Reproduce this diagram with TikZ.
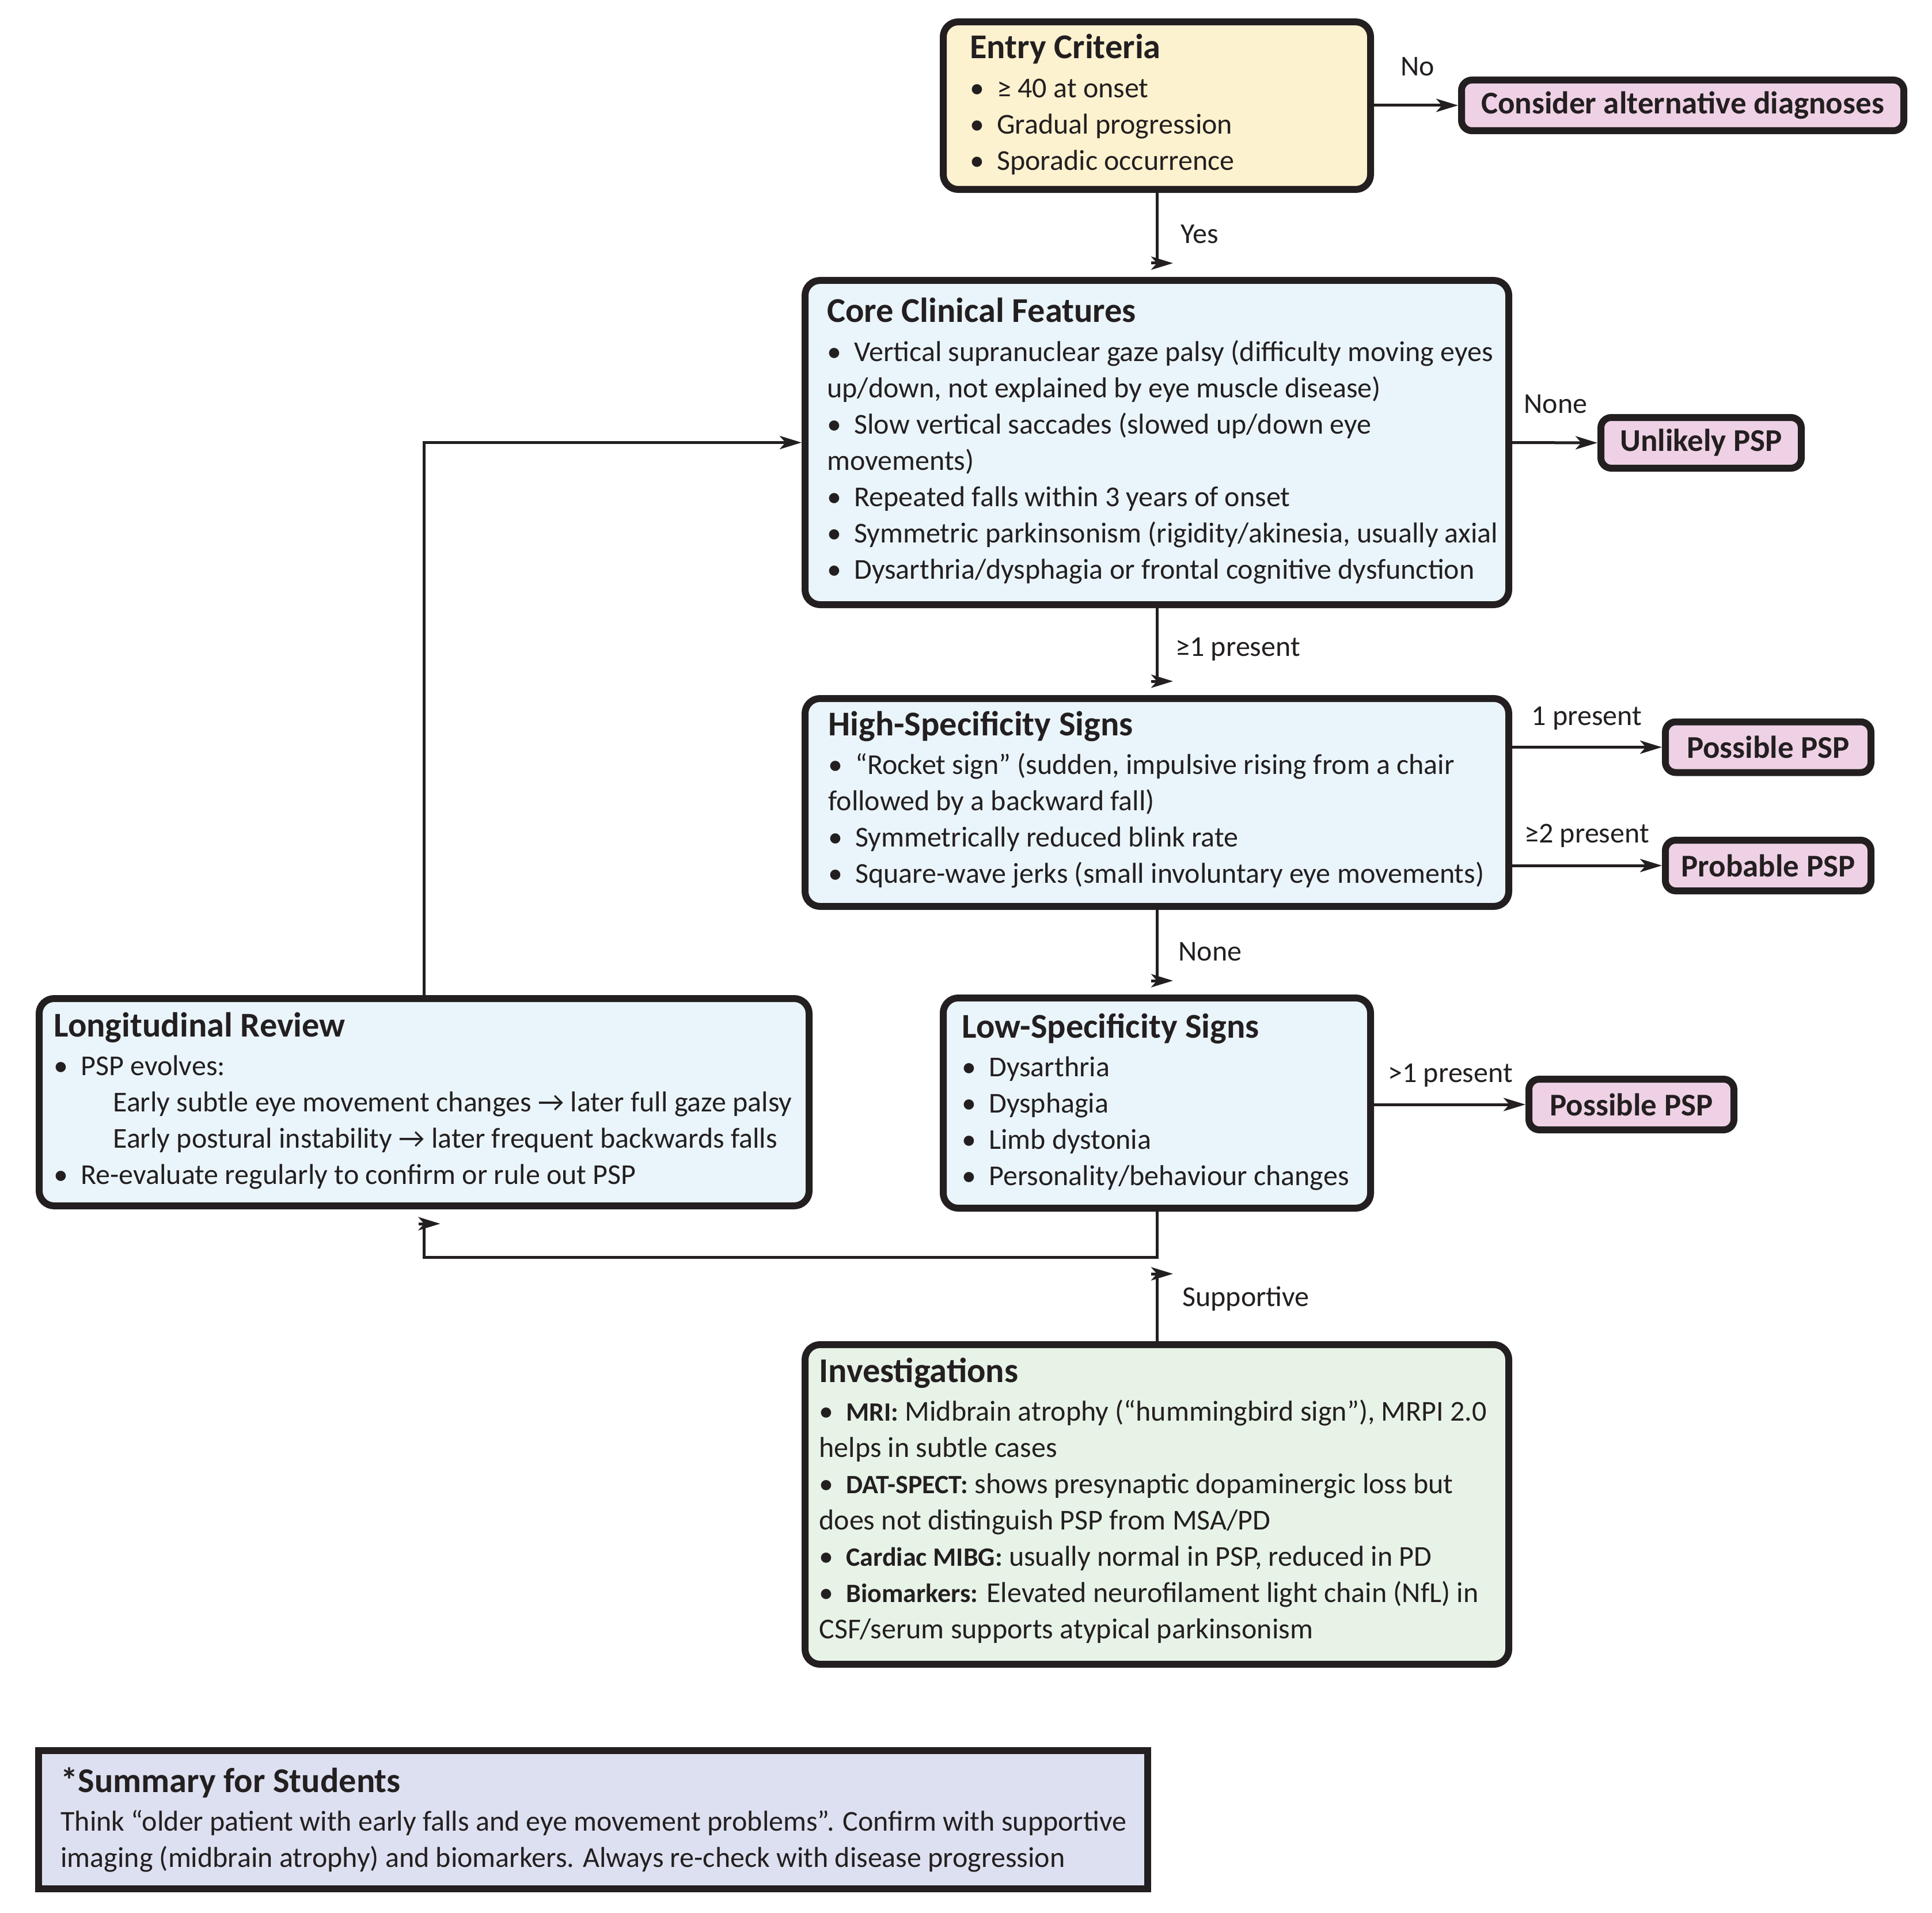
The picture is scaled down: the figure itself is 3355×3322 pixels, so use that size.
\documentclass[tikz,border=0pt]{standalone}
\usepackage{fontspec}
\setmainfont{Carlito}
\usetikzlibrary{arrows.meta,calc}
\definecolor{ink}{HTML}{231F20}
\definecolor{yellowfill}{HTML}{FDF2CF}
\definecolor{bluefill}{HTML}{EAF5FB}
\definecolor{pinkfill}{HTML}{EFD1E5}
\definecolor{greenfill}{HTML}{E8F3E8}
\definecolor{lavfill}{HTML}{DDE0F0}
\newcommand\tsz{\fontsize{30.2pt}{31.5pt}\selectfont\bfseries}
\newcommand\bsz{\fontsize{25pt}{31.5pt}\selectfont}
\newcommand\bl[1]{\hbox{\makebox[23.5pt][l]{•}#1}}
\newcommand\txl[1]{\hbox{#1}}
\newcommand\ttl[1]{\hbox{\tsz #1}\vskip 2.25pt}
\newcommand\lbl[1]{{\fontsize{23pt}{31.5pt}\selectfont\bfseries #1}}
\newcommand\txtbox[1]{\vtop{\bsz\baselineskip=31.5pt\lineskiplimit=-100pt\lineskip=0pt #1}}
\tikzset{
  box/.style 2 args={draw=ink, line width=6pt, rounded corners=13pt, inner sep=0pt,
    minimum width=#1*0.5pt-6pt, minimum height=#2*0.5pt-6pt},
  term/.style 2 args={draw=ink, line width=6pt, rounded corners=9pt, inner sep=0pt,
    fill=pinkfill, text=ink, font=\fontsize{27.5pt}{30pt}\selectfont\bfseries,
    minimum width=#1*0.5pt-6pt, minimum height=#2*0.5pt-6pt},
  sqbox/.style 2 args={draw=ink, line width=6pt, inner sep=0pt,
    minimum width=#1*0.5pt-6pt, minimum height=#2*0.5pt-6pt},
  body/.style={anchor=base west, inner sep=0pt, text=ink},
  lab/.style={anchor=base west, inner sep=0pt, text=ink, font=\bsz},
  conn/.style={draw=ink, line width=2.5pt},
  arr/.style={conn, -{Stealth[length=19pt, width=11.5pt, inset=5pt]}},
}
\begin{document}
\begin{tikzpicture}[x=0.5pt,y=-0.5pt]
\fill[white] (0,0) rectangle (3355,3322);
\useasboundingbox (0,0) rectangle (3355,3322);

% boxes
\node[box={754}{303}, fill=yellowfill] (entry) at (2009,183.5) {};
\node[term={780}{100}] (consider) at (2922,183) {Consider alternative diagnoses};
\node[box={1234}{575}, fill=bluefill] (core) at (2009,768.5) {};
\node[term={360}{100}] (unlikely) at (2954,769) {Unlikely PSP};
\node[box={1234}{373}, fill=bluefill] (high) at (2009,1393.5) {};
\node[term={369}{100}] (possible) at (3070.5,1297.5) {Possible PSP};
\node[term={369}{100}] (probable) at (3070.5,1503) {Probable PSP};
\node[box={754}{377}, fill=bluefill] (low) at (2009,1915.5) {};
\node[term={368}{100}] (possible2) at (2833,1918) {Possible PSP};
\node[box={1349}{372}, fill=bluefill] (longi) at (736.5,1914) {};
\node[box={1234}{567}, fill=greenfill] (inv) at (2009,2612.5) {};
\node[sqbox={1938}{252}, fill=lavfill] (summary) at (1030,3160) {};

% box texts
\node[body] (entrytxt) at (1684,102) {\txtbox{%
  \ttl{Entry Criteria}
  \bl{≥ 40 at onset}
  \bl{Gradual progression}
  \bl{Sporadic occurrence}}};
\node[body] (coretxt) at (1436,560) {\txtbox{%
  \ttl{Core Clinical Features}
  \bl{Vertical supranuclear gaze palsy (difficulty moving eyes}
  \txl{up/down, not explained by eye muscle disease)}
  \bl{Slow vertical saccades (slowed up/down eye}
  \txl{movements)}
  \bl{Repeated falls within 3 years of onset}
  \bl{Symmetric parkinsonism (rigidity/akinesia, usually axial}
  \bl{Dysarthria/dysphagia or frontal cognitive dysfunction}}};
\node[body] (hightxt) at (1438,1277) {\txtbox{%
  \ttl{High-Specificity Signs}
  \bl{“Rocket sign” (sudden, impulsive rising from a chair}
  \txl{followed by a backward fall)}
  \bl{Symmetrically reduced blink rate}
  \bl{Square-wave jerks (small involuntary eye movements)}}};
\node[body] (lowtxt) at (1670,1802) {\txtbox{%
  \ttl{Low-Specificity Signs}
  \bl{Dysarthria}
  \bl{Dysphagia}
  \bl{Limb dystonia}
  \bl{Personality/behaviour changes}}};
\node[body] (longitxt) at (93,1800) {\txtbox{%
  \ttl{Longitudinal Review}
  \bl{PSP evolves:}
  \txl{\hspace{51.5pt}Early subtle eye movement changes → later full gaze palsy}
  \txl{\hspace{51.5pt}Early postural instability → later frequent backwards falls}
  \bl{Re-evaluate regularly to confirm or rule out PSP}}};
\node[body] (invtxt) at (1422,2400) {\txtbox{%
  \ttl{Investigations}
  \bl{\lbl{MRI:} Midbrain atrophy (“hummingbird sign”), MRPI 2.0}
  \txl{helps in subtle cases}
  \bl{\lbl{DAT-SPECT:} shows presynaptic dopaminergic loss but}
  \txl{does not distinguish PSP from MSA/PD}
  \bl{\lbl{Cardiac MIBG:} usually normal in PSP, reduced in PD}
  \bl{\lbl{Biomarkers:} Elevated neurofilament light chain (NfL) in}
  \txl{CSF/serum supports atypical parkinsonism}}};
\node[body] (sumtxt) at (105,3112) {\txtbox{%
  \ttl{*Summary for Students}
  \txl{Think “older patient with early falls and eye movement problems”. Confirm with supportive}
  \txl{imaging (midbrain atrophy) and biomarkers. Always re-check with disease progression}}};

% connectors: horizontal
\draw[arr] (entry.east |- consider.west) -- (consider.west);
\draw[arr] (core.east) -- (unlikely.west);
\draw[arr] (possible.west -| high.east) -- (possible.west);
\draw[arr] (probable.west -| high.east) -- (probable.west);
\draw[arr] (possible2.west -| low.east) -- (possible2.west);
\draw[arr] (longi.north) |- (core.west);

% connectors: vertical (heads drawn as in the reference)
\draw[conn] (entry.south) -- ($(core.north)+(0,-24)$) coordinate (e1);
\draw[arr] ($(e1)+(-10,0)$) -- ++(38,0);
\draw[conn] (core.south) -- ($(high.north)+(0,-24)$) coordinate (e2);
\draw[arr] ($(e2)+(-10,0)$) -- ++(38,0);
\draw[conn] (high.south) -- ($(low.north)+(0,-24)$) coordinate (e3);
\draw[arr] ($(e3)+(-10,0)$) -- ++(38,0);
\coordinate (rt) at (0,2183);
\draw[conn] (low.south) -- (low.south |- rt) -- (longi.south |- rt) -- ($(longi.south)+(0,25)$) coordinate (e4);
\draw[arr] ($(e4)+(-10,0)$) -- ++(38,0);
\draw[conn] (inv.north) -- ($(low.south)+(0,108)$) coordinate (e5);
\draw[arr] ($(e5)+(-10,0)$) -- ++(38,0);

% connector labels
\node[lab] (lno) at (2432,132) {No};
\node[lab] (lyes) at (2050,423) {Yes};
\node[lab] (lnone1) at (2646,718) {None};
\node[lab] (lge1) at (2041,1139) {≥1 present};
\node[lab] (lone) at (2659,1259) {1 present};
\node[lab] (lge2) at (2647,1463) {≥2 present};
\node[lab] (lnone2) at (2046,1668) {None};
\node[lab] (lgt1) at (2410,1879) {>1 present};
\node[lab] (lsup) at (2053,2268) {Supportive};
\end{tikzpicture}
\end{document}
